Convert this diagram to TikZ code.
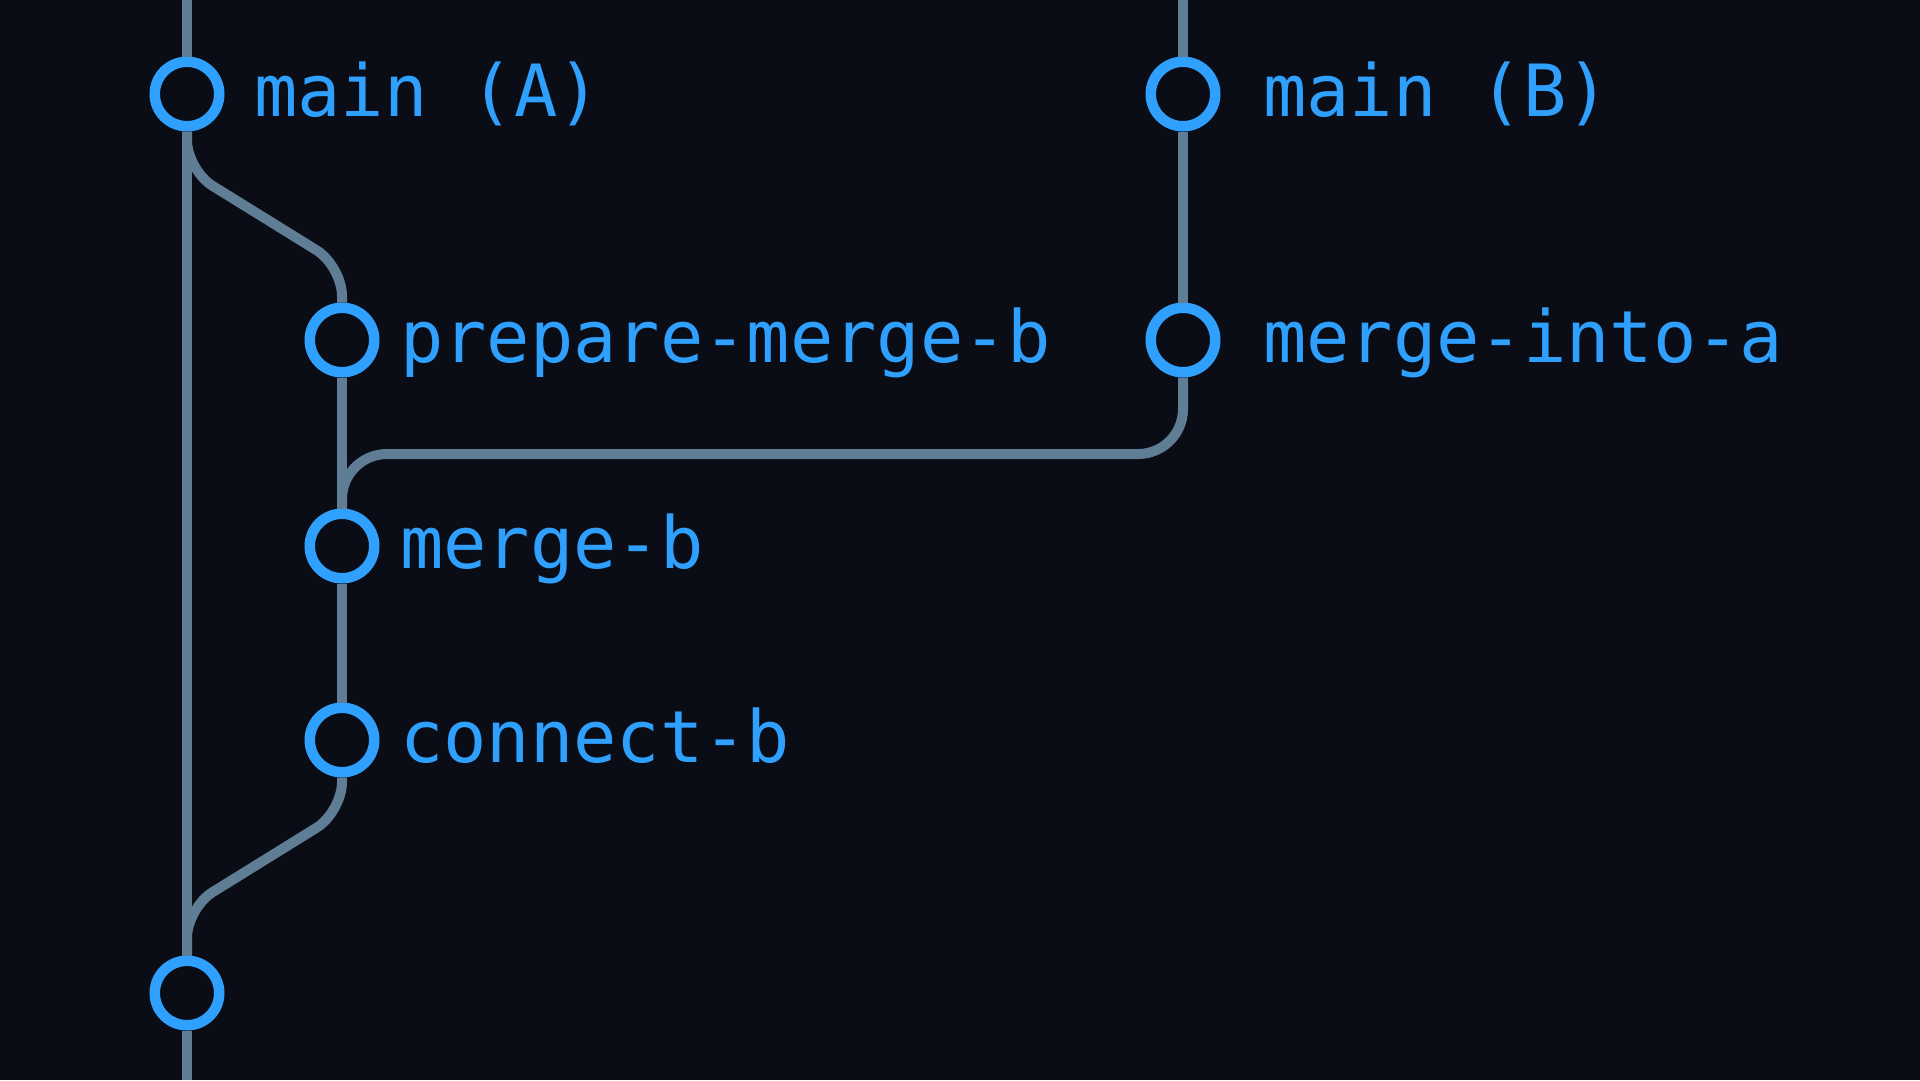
\documentclass[tikz,border=0pt]{standalone}
\usepackage{fontspec}
\setmonofont{DejaVu Sans Mono}
\definecolor{bgc}{HTML}{0A0D15}
\definecolor{edgec}{HTML}{607D96}
\definecolor{bluec}{HTML}{30A0FF}
\tikzset{
  commit/.style={circle, draw=bluec, fill=bgc, line width=10.5pt, minimum size=64.5pt, inner sep=0pt},
  lbl/.style={anchor=base west, inner sep=0pt, text=bluec, font=\fontsize{72}{80}\selectfont\ttfamily},
  linkline/.style={draw=edgec, line width=10pt},
}
\begin{document}
\begin{tikzpicture}[x=1pt, y=-1pt]
\useasboundingbox (0,0) rectangle (1920,1080);
\fill[bgc] (0,0) rectangle (1920,1080);
% commits
\node[commit] (mainA) at (187,94) {};
\node[commit] (prep) at (342,340) {};
\node[commit] (mergeb) at (342,546) {};
\node[commit] (conn) at (342,740) {};
\node[commit] (base) at (187,993) {};
\node[commit] (mainB) at (1183,94) {};
\node[commit] (mia) at (1183,340) {};
\coordinate (topA) at (187,0);
\coordinate (botA) at (187,1080);
\coordinate (topB) at (1183,0);
% connectors
\draw[linkline] (topA) -- (mainA);
\draw[linkline] (mainA) -- (base);
\draw[linkline] (base) -- (botA);
\draw[linkline, rounded corners=30pt] (mainA.south) -- (187,170) -- (342,266) -- (prep.north);
\draw[linkline] (prep) -- (mergeb);
\draw[linkline] (mergeb) -- (conn);
\draw[linkline, rounded corners=30pt] (conn.south) -- (342,812) -- (187,908) -- (base.north);
\draw[linkline] (topB) -- (mainB);
\draw[linkline] (mainB) -- (mia);
\draw[linkline, rounded corners=45pt] (mia.south) -- (1183,454) -- (342,454) -- (mergeb.north);
% labels
\node[lbl] (lA) at (254,116) {main (A)};
\node[lbl] (lP) at (400,362) {prepare-merge-b};
\node[lbl] (lM) at (400,568) {merge-b};
\node[lbl] (lC) at (400,762) {connect-b};
\node[lbl] (lB) at (1263,116) {main (B)};
\node[lbl] (lI) at (1263,362) {merge-into-a};
\end{tikzpicture}
\end{document}
